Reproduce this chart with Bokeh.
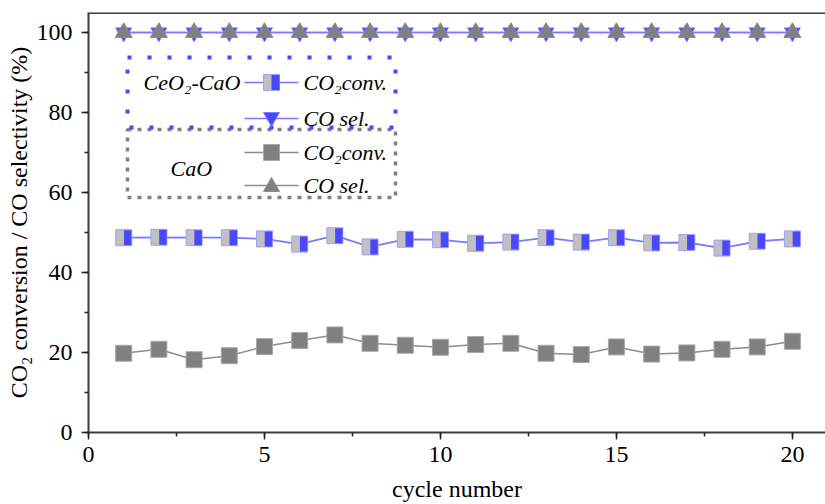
from bokeh.plotting import figure
from bokeh.models import (Range1d, SingleIntervalTicker, Span, BoxAnnotation, Label,
                          Arrow, PolyAnnotation, ColumnDataSource)
from bokeh.transform import dodge
from bokeh.embed import file_html
from bokeh.resources import INLINE

# ---------------- data ----------------
cycles = [1, 2, 3, 4, 5, 6, 7, 8, 9, 10, 11, 12, 13, 14, 15, 16, 17, 18, 19, 20]
ceo2_cao_conv = [48.7, 48.8, 48.7, 48.7, 48.4, 47.1, 49.2, 46.4, 48.3, 48.2,
                 47.3, 47.6, 48.7, 47.6, 48.7, 47.4, 47.5, 46.1, 47.8, 48.4]
ceo2_cao_sel = [100.0, 100.0, 100.0, 100.0, 100.0, 100.0, 100.0, 100.0, 100.0, 100.0,
                100.0, 100.0, 100.0, 100.0, 100.0, 100.0, 100.0, 100.0, 100.0, 100.0]
cao_conv = [19.8, 20.8, 18.2, 19.2, 21.5, 23.0, 24.4, 22.3, 21.8, 21.3,
            22.0, 22.3, 19.8, 19.5, 21.4, 19.6, 19.9, 20.8, 21.4, 22.8]
cao_sel = [100.0, 100.0, 100.0, 100.0, 100.0, 100.0, 100.0, 100.0, 100.0, 100.0,
           100.0, 100.0, 100.0, 100.0, 100.0, 100.0, 100.0, 100.0, 100.0, 100.0]

group_labels = ["CeO\u2082-CaO", "CaO"]
item_labels = ["CO\u2082conv.", "CO sel.", "CO\u2082conv.", "CO sel."]
x_label = "cycle number"
y_label = "CO\u2082 conversion / CO selectivity (%)"

FONT = "Liberation Serif"
BLUE = "#4848ff"
BLUE_LINE = "#7a7aff"
GRAY = "#808080"
GRAY_LINE = "#8c8c8c"
LIGHT = "#c0c0c0"

src = ColumnDataSource(dict(x=cycles, ceo2_conv=ceo2_cao_conv, ceo2_sel=ceo2_cao_sel,
                            cao_conv=cao_conv, cao_sel=cao_sel))

p = figure(width=825, height=504, x_range=Range1d(0, 20.94), y_range=Range1d(0, 105),
           output_backend="svg", toolbar_location=None,
           min_border_left=88, min_border_right=0, min_border_top=12, min_border_bottom=72)
p.outline_line_color = None
p.grid.visible = False
p.background_fill_color = "white"

p.xaxis.ticker = SingleIntervalTicker(interval=5, num_minor_ticks=2)
p.yaxis.ticker = SingleIntervalTicker(interval=20, num_minor_ticks=2)
p.xaxis.axis_label = x_label
p.yaxis.axis_label = y_label
for ax in (p.xaxis[0], p.yaxis[0]):
    ax.axis_line_color = "#3c3c3c"
    ax.axis_line_width = 2
    ax.major_tick_line_color = "#222222"
    ax.minor_tick_line_color = "#222222"
    ax.major_tick_line_width = 1.5
    ax.minor_tick_line_width = 1.5
    ax.major_tick_out = 7
    ax.major_tick_in = 0
    ax.minor_tick_out = 4
    ax.minor_tick_in = 0
    ax.major_label_text_font = FONT
    ax.major_label_text_font_size = "24px"
    ax.major_label_text_color = "black"
    ax.axis_label_text_font = FONT
    ax.axis_label_text_font_size = "24px"
    ax.axis_label_text_font_style = "normal"
    ax.axis_label_text_color = "black"
p.yaxis.major_label_standoff = 9
p.yaxis.axis_label_standoff = 2
p.xaxis.major_label_standoff = 7
p.xaxis.axis_label_standoff = 11

p.add_layout(Span(location=105, dimension="width", line_color="#3c3c3c", line_width=3))

# ---------------- data marks ----------------
p.line("x", "cao_conv", source=src, line_color=GRAY_LINE, line_width=1.5)
p.scatter("x", "cao_conv", source=src, marker="square", size=16,
          fill_color=GRAY, line_color="#a8a8a8", line_width=1)

p.line("x", "ceo2_conv", source=src, line_color=BLUE_LINE, line_width=1.8)
p.scatter("x", "ceo2_conv", source=src, marker="square", size=16,
          fill_color=LIGHT, line_color="#a0a0ff", line_width=1)
p.rect(x=dodge("x", 0.1136), y="ceo2_conv", source=src, width=7.5, height=15,
       width_units="screen", height_units="screen", fill_color=BLUE, line_color=None)

p.line("x", "cao_sel", source=src, line_color=GRAY_LINE, line_width=1.5)
p.line("x", "ceo2_sel", source=src, line_color=BLUE_LINE, line_width=1.5)
p.scatter("x", "ceo2_sel", source=src, marker="inverted_triangle", size=16,
          fill_color=BLUE, line_color=BLUE_LINE, line_width=1)
p.scatter("x", "cao_sel", source=src, marker="triangle", size=17,
          fill_color=GRAY, line_color=GRAY_LINE, line_width=1)

# ---------------- legend (screen units, frame-relative) ----------------
S = dict(left_units="screen", right_units="screen", top_units="screen", bottom_units="screen")
p.add_layout(BoxAnnotation(left=39, right=307, bottom=235, top=303, fill_alpha=0,
                           line_color=GRAY, line_alpha=1, line_width=3.5, line_dash="4 6", **S))
p.add_layout(BoxAnnotation(left=39, right=307, bottom=305, top=375, fill_alpha=0,
                           line_color=BLUE, line_alpha=1, line_width=4, line_dash="4 16", **S))

rows = [350, 314, 280, 247]
mx = 183
line_cols = [BLUE_LINE, BLUE_LINE, GRAY_LINE, GRAY_LINE]
for ry, lc in zip(rows, line_cols):
    p.add_layout(Arrow(x_start=156, y_start=ry, x_end=210, y_end=ry,
                       start_units="screen", end_units="screen", end=None,
                       line_color=lc, line_width=1.5))

# row 1: half-filled square
p.add_layout(BoxAnnotation(left=mx - 8, right=mx + 8, bottom=rows[0] - 8, top=rows[0] + 8,
                           fill_color=LIGHT, fill_alpha=1, line_color="#a0a0ff", line_alpha=1,
                           line_width=1, **S))
p.add_layout(BoxAnnotation(left=mx, right=mx + 8, bottom=rows[0] - 7.5, top=rows[0] + 7.5,
                           fill_color=BLUE, fill_alpha=1, line_color=None, **S))
# row 2: inverted triangle
p.add_layout(PolyAnnotation(xs=[mx - 8, mx + 8, mx], ys=[rows[1] + 6, rows[1] + 6, rows[1] - 8],
                            xs_units="screen", ys_units="screen",
                            fill_color=BLUE, fill_alpha=1, line_color=BLUE_LINE, line_alpha=1,
                            line_width=1))
# row 3: gray square
p.add_layout(BoxAnnotation(left=mx - 8, right=mx + 8, bottom=rows[2] - 8, top=rows[2] + 8,
                           fill_color=GRAY, fill_alpha=1, line_color="#a8a8a8", line_alpha=1,
                           line_width=1, **S))
# row 4: gray triangle
p.add_layout(PolyAnnotation(xs=[mx - 8, mx + 8, mx], ys=[rows[3] - 6, rows[3] - 6, rows[3] + 8],
                            xs_units="screen", ys_units="screen",
                            fill_color=GRAY, fill_alpha=1, line_color=GRAY_LINE, line_alpha=1,
                            line_width=1))

for ry, txt in zip(rows, item_labels):
    p.add_layout(Label(x=215, y=ry, x_units="screen", y_units="screen", text=txt,
                       text_font=FONT, text_font_style="italic", text_font_size="22px",
                       text_baseline="middle", text_color="black"))

p.add_layout(Label(x=55, y=rows[0], x_units="screen", y_units="screen", text=group_labels[0],
                   text_font=FONT, text_font_style="italic", text_font_size="22px",
                   text_baseline="middle", text_color="black"))
p.add_layout(Label(x=82, y=264, x_units="screen", y_units="screen", text=group_labels[1],
                   text_font=FONT, text_font_style="italic", text_font_size="22px",
                   text_baseline="middle", text_color="black"))

open("out.html", "w").write(file_html(p, INLINE))
